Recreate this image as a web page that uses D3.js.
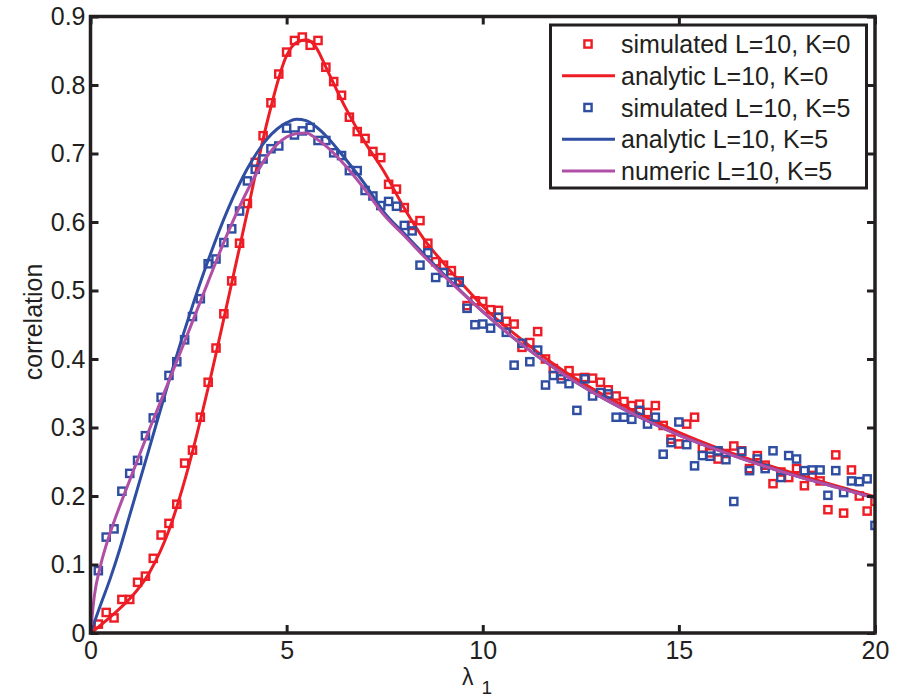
<!DOCTYPE html>
<html>
<head>
<meta charset="utf-8">
<script src="https://cdn.jsdelivr.net/npm/d3@7"></script>
<style>
  body { margin: 0; background: #fff; }
  text { font-family: "Liberation Sans", Arial, Helvetica, sans-serif; fill: #231f20; }
</style>
</head>
<body>
<svg id="chart" width="909" height="698"></svg>
<script>
// simulated lambda_1 values (both simulated series share them)
const lambdaSim = [
  0.2, 0.4, 0.6, 0.8, 1.0, 1.2, 1.4, 1.6, 1.8, 2.0,
  2.2, 2.4, 2.6, 2.8, 3.0, 3.2, 3.4, 3.6, 3.8, 4.0,
  4.2, 4.4, 4.6, 4.8, 5.0, 5.2, 5.4, 5.6, 5.8, 6.0,
  6.2, 6.4, 6.6, 6.8, 7.0, 7.2, 7.4, 7.6, 7.8, 8.0,
  8.2, 8.4, 8.6, 8.8, 9.0, 9.2, 9.4, 9.6, 9.8, 10.0,
  10.2, 10.4, 10.6, 10.8, 11.0, 11.2, 11.4, 11.6, 11.8, 12.0,
  12.2, 12.4, 12.6, 12.8, 13.0, 13.2, 13.4, 13.6, 13.8, 14.0,
  14.2, 14.4, 14.6, 14.8, 15.0, 15.2, 15.4, 15.6, 15.8, 16.0,
  16.2, 16.4, 16.6, 16.8, 17.0, 17.2, 17.4, 17.6, 17.8, 18.0,
  18.2, 18.4, 18.6, 18.8, 19.0, 19.2, 19.4, 19.6, 19.8, 20.0
];
const simulatedK0 = [
  0.013, 0.030, 0.022, 0.049, 0.049, 0.074, 0.083, 0.109, 0.143, 0.160,
  0.188, 0.248, 0.267, 0.315, 0.366, 0.416, 0.466, 0.514, 0.569, 0.627,
  0.687, 0.726, 0.774, 0.816, 0.848, 0.865, 0.870, 0.858, 0.865, 0.826,
  0.805, 0.785, 0.753, 0.732, 0.722, 0.703, 0.694, 0.655, 0.648, 0.621,
  0.595, 0.602, 0.569, 0.542, 0.537, 0.529, 0.514, 0.478, 0.485, 0.484,
  0.472, 0.471, 0.455, 0.451, 0.417, 0.424, 0.440, 0.400, 0.386, 0.376,
  0.383, 0.372, 0.373, 0.372, 0.366, 0.355, 0.346, 0.338, 0.332, 0.334,
  0.322, 0.332, 0.303, 0.283, 0.276, 0.305, 0.315, 0.270, 0.263, 0.254,
  0.262, 0.273, 0.266, 0.240, 0.259, 0.245, 0.218, 0.235, 0.227, 0.240,
  0.215, 0.230, 0.222, 0.180, 0.260, 0.175, 0.238, 0.200, 0.178, 0.192
];
const simulatedK5 = [
  0.091, 0.140, 0.152, 0.207, 0.233, 0.252, 0.288, 0.314, 0.344, 0.376,
  0.396, 0.428, 0.462, 0.488, 0.539, 0.546, 0.570, 0.590, 0.616, 0.660,
  0.677, 0.692, 0.707, 0.711, 0.737, 0.727, 0.733, 0.738, 0.719, 0.719,
  0.701, 0.697, 0.675, 0.675, 0.646, 0.638, 0.624, 0.630, 0.623, 0.595,
  0.587, 0.537, 0.555, 0.519, 0.526, 0.512, 0.512, 0.474, 0.450, 0.451,
  0.445, 0.461, 0.439, 0.391, 0.423, 0.396, 0.413, 0.362, 0.376, 0.371,
  0.364, 0.325, 0.371, 0.346, 0.351, 0.349, 0.315, 0.315, 0.312, 0.325,
  0.305, 0.315, 0.261, 0.278, 0.308, 0.275, 0.244, 0.259, 0.258, 0.266,
  0.253, 0.192, 0.265, 0.237, 0.254, 0.240, 0.266, 0.227, 0.259, 0.254,
  0.237, 0.238, 0.238, 0.201, 0.237, 0.205, 0.222, 0.221, 0.225, 0.157
];

// curves, read at these lambda values
const lambdaCurve = [0, 0.1, 0.25, 0.5, 0.75, 1, 1.5, 2, 2.5, 3, 3.5, 4, 4.5, 5, 5.25, 5.5, 5.75, 6,
  6.5, 7, 7.5, 8, 8.5, 9, 9.5, 10, 11, 12, 13, 14, 15, 16, 17, 18, 19, 20];
const analyticK0 = [0, 0.004, 0.011, 0.023, 0.036, 0.050, 0.088, 0.150, 0.243, 0.358, 0.485, 0.615, 0.745, 0.843, 0.862, 0.866, 0.855, 0.826,
  0.767, 0.716, 0.672, 0.620, 0.575, 0.540, 0.508, 0.477, 0.428, 0.385, 0.350, 0.320, 0.293, 0.270, 0.250, 0.232, 0.215, 0.199];
const analyticK5 = [0, 0.016, 0.040, 0.079, 0.123, 0.172, 0.270, 0.368, 0.460, 0.544, 0.618, 0.678, 0.721, 0.745, 0.750, 0.748, 0.739, 0.726,
  0.692, 0.655, 0.613, 0.583, 0.553, 0.524, 0.496, 0.469, 0.421, 0.380, 0.345, 0.315, 0.289, 0.267, 0.247, 0.229, 0.213, 0.197];
const numericK5 = [0, 0.055, 0.097, 0.146, 0.186, 0.223, 0.297, 0.368, 0.440, 0.513, 0.584, 0.646, 0.696, 0.724, 0.729, 0.730, 0.722, 0.711,
  0.682, 0.647, 0.609, 0.580, 0.550, 0.522, 0.495, 0.469, 0.421, 0.380, 0.345, 0.315, 0.289, 0.267, 0.247, 0.229, 0.213, 0.197];

const xTicks = [0, 5, 10, 15, 20];
const yTicks = [0, 0.1, 0.2, 0.3, 0.4, 0.5, 0.6, 0.7, 0.8, 0.9];
const legendLabels = ["simulated L=10, K=0", "analytic L=10, K=0", "simulated L=10, K=5", "analytic L=10, K=5", "numeric L=10, K=5"];

const RED = "#ee1c25", BLUE = "#2f4ea2", MAGENTA = "#b04fa5", INK = "#231f20";

const svg = d3.select("#chart");
const x = d3.scaleLinear().domain([0, 20]).range([90.5, 875]);
const y = d3.scaleLinear().domain([0, 0.9]).range([633, 16.5]);

// plot area clip
svg.append("defs").append("clipPath").attr("id", "clip")
  .append("rect").attr("x", x(0)).attr("y", y(0.9)).attr("width", x(20) - x(0)).attr("height", y(0) - y(0.9));

const plot = svg.append("g").attr("clip-path", "url(#clip)");

function squares(vals, color) {
  plot.append("g").selectAll("rect")
    .data(vals.map((v, i) => [lambdaSim[i], v]))
    .enter().append("rect")
    .attr("x", d => x(d[0]) - 3.6)
    .attr("y", d => y(d[1]) - 3.6)
    .attr("width", 7.2).attr("height", 7.2)
    .attr("fill", "none").attr("stroke", color).attr("stroke-width", 2.4);
}
const line = d3.line()
  .x(d => x(d[0]))
  .y(d => y(d[1]))
  .curve(d3.curveMonotoneX);
function curve(vals, color) {
  plot.append("path")
    .datum(vals.map((v, i) => [lambdaCurve[i], v]))
    .attr("d", line)
    .attr("fill", "none").attr("stroke", color).attr("stroke-width", 3);
}

// same order as the legend
squares(simulatedK0, RED);
curve(analyticK0, RED);
squares(simulatedK5, BLUE);
curve(analyticK5, BLUE);
curve(numericK5, MAGENTA);

// axes, ticks pointing inward
const fs = 25;
function styleAxis(g) {
  g.select(".domain").remove();
  g.selectAll(".tick line").attr("stroke", INK).attr("stroke-width", 3);
  g.selectAll("text").style("font-size", fs + "px").attr("fill", INK).style("font-family", null);
}
svg.append("g").attr("transform", `translate(0,${y(0)})`)
  .call(d3.axisBottom(x).tickValues(xTicks).tickSize(-8).tickPadding(8).tickFormat(d3.format("d")))
  .call(styleAxis);
svg.append("g").attr("transform", `translate(0,${y(0.9)})`)
  .call(d3.axisTop(x).tickValues(xTicks).tickSize(-8).tickFormat(""))
  .call(styleAxis);
svg.append("g").attr("transform", `translate(${x(0)},0)`)
  .call(d3.axisLeft(y).tickValues(yTicks).tickSize(-8).tickPadding(5).tickFormat(d => d === 0 ? "0" : d3.format(".1f")(d)))
  .call(styleAxis);
svg.append("g").attr("transform", `translate(${x(20)},0)`)
  .call(d3.axisRight(y).tickValues(yTicks).tickSize(-8).tickFormat(""))
  .call(styleAxis);

svg.append("rect")
  .attr("x", x(0)).attr("y", y(0.9))
  .attr("width", x(20) - x(0)).attr("height", y(0) - y(0.9))
  .attr("fill", "none").attr("stroke", INK).attr("stroke-width", 3.5);

// axis labels
svg.append("text")
  .attr("transform", "translate(42,322) rotate(-90)")
  .attr("text-anchor", "middle")
  .style("font-size", fs + "px")
  .text("correlation");
const xl = svg.append("text").attr("x", 462).attr("y", 685).style("font-size", "23px");
xl.append("tspan").text("λ");
xl.append("tspan").attr("dx", 8).attr("dy", 9).style("font-size", "19px").text("1");

// legend
const legend = svg.append("g");
legend.append("rect")
  .attr("x", 550.5).attr("y", 25).attr("width", 316).attr("height", 163)
  .attr("fill", "#fff").attr("stroke", INK).attr("stroke-width", 3);
const legendColors = [RED, RED, BLUE, BLUE, MAGENTA];
const legendIsMarker = [true, false, true, false, false];
const rowY = d3.scaleLinear().domain([0, 4]).range([44, 171]);
legendLabels.forEach((lab, i) => {
  const cy = rowY(i);
  if (legendIsMarker[i]) {
    legend.append("rect")
      .attr("x", 588 - 3.6).attr("y", cy - 3.6).attr("width", 7.2).attr("height", 7.2)
      .attr("fill", "none").attr("stroke", legendColors[i]).attr("stroke-width", 2.4);
  } else {
    legend.append("line")
      .attr("x1", 562).attr("x2", 615).attr("y1", cy).attr("y2", cy)
      .attr("stroke", legendColors[i]).attr("stroke-width", 3);
  }
  legend.append("text")
    .attr("x", 621).attr("y", cy + 9)
    .style("font-size", fs + "px")
    .text(lab);
});
</script>
</body>
</html>
